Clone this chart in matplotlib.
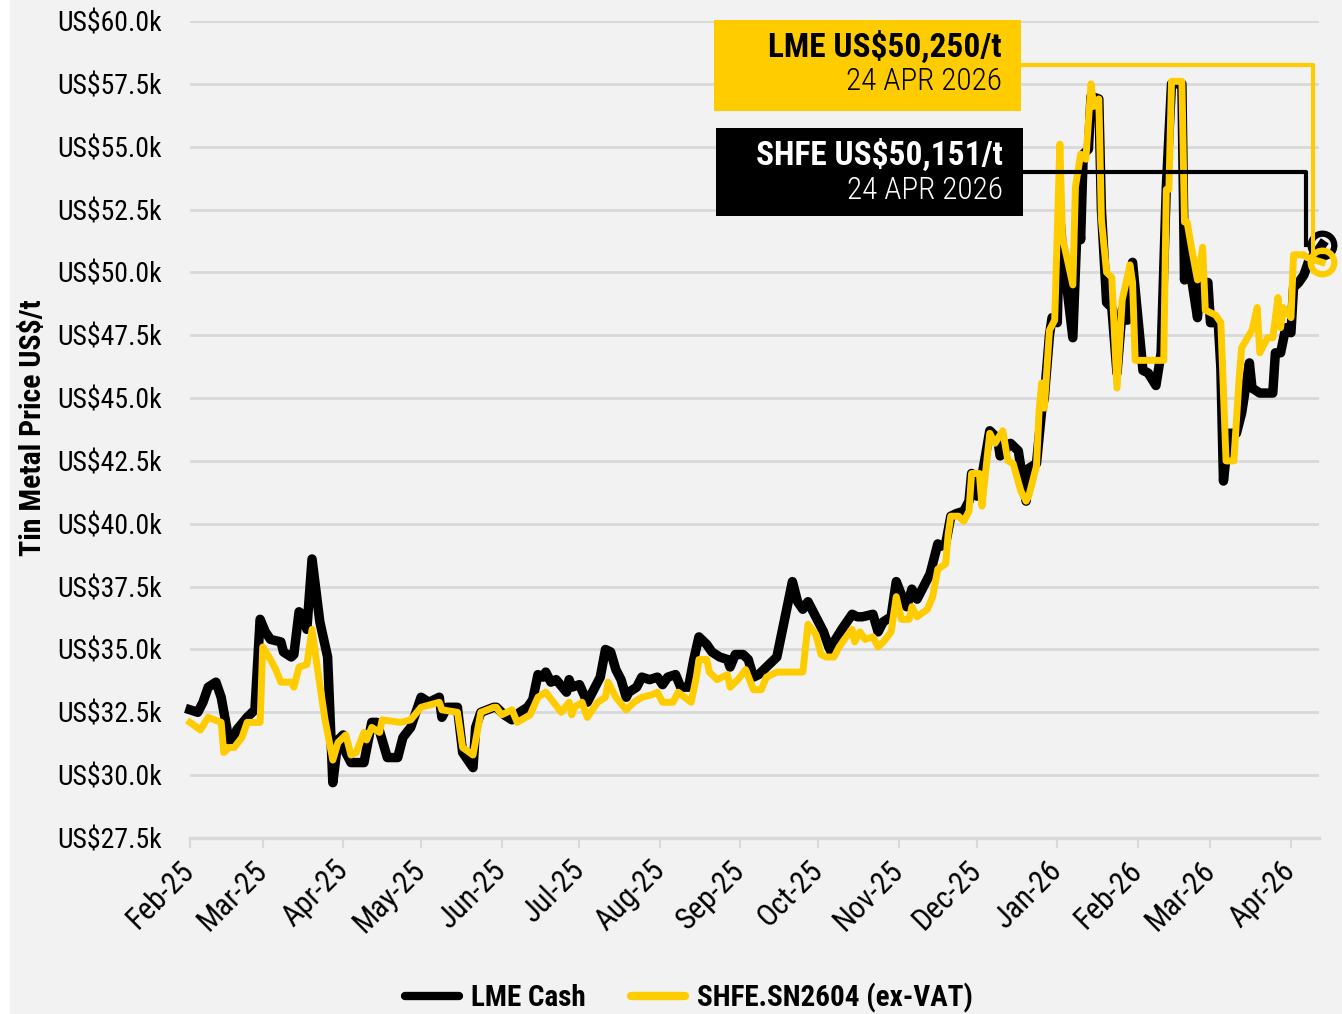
import numpy as np
import pandas as pd
import matplotlib
matplotlib.use('Agg')
import matplotlib.pyplot as plt
import matplotlib.transforms as mtransforms
from matplotlib.patches import Rectangle
from matplotlib.lines import Line2D
from matplotlib.ticker import FuncFormatter

plt.rcParams['font.family'] = ['Roboto Condensed', 'Archivo Narrow', 'DejaVu Sans']

# data: day offsets from 1 Feb 2025, price in US$k/t
start = pd.Timestamp('2025-02-01')

lme_day = [0, 3, 5, 7, 10, 12, 15, 17, 18, 22, 25, 27, 29, 31, 35, 36, 39, 40, 42, 43,
           45, 47, 50, 53, 55, 57, 59, 60, 62, 67, 70, 72, 76, 80, 82, 85, 89, 92, 96, 97,
           99, 103, 105, 109, 110, 112, 117, 118, 121, 124, 127, 130, 132, 134, 136, 137, 139, 141, 145, 146,
           147, 150, 153, 155, 158, 160, 162, 164, 166, 168, 169, 172, 174, 177, 180, 182, 184, 187, 189, 192,
           194, 196, 199, 201, 204, 207, 208, 210, 213, 215, 217, 219, 221, 223, 226, 229, 232, 234, 236, 238,
           240, 242, 244, 246, 247, 248, 251, 255, 257, 259, 263, 265, 267, 270, 272, 275, 276, 278, 280, 282,
           285, 288, 289, 291, 293, 295, 298, 300, 301, 303, 305, 308, 311, 312, 316, 319, 322, 323, 326, 328,
           329, 331, 332, 334, 335, 336, 340, 342, 343, 344, 346, 347, 350, 351, 353, 355, 357, 359, 361, 363,
           367, 369, 372, 374, 376, 378, 382, 383, 384, 388, 389, 392, 393, 396, 397, 398, 400, 403, 405, 408,
           409, 412, 417, 418, 420, 422, 424, 425, 427, 429, 431, 434, 436]
lme_price = [32.6, 32.5, 32.9, 33.5, 33.7, 33.1, 31.4, 31.4, 31.8, 32.3, 32.6, 36.2, 35.7, 35.4, 35.3, 34.9, 34.7, 34.8, 36.5, 36.4,
             35.8, 38.6, 36.1, 34.7, 29.7, 31.4, 31.6, 30.9, 30.5, 30.5, 32.1, 32.1, 30.7, 30.7, 31.5, 31.9, 33.1, 32.9, 33.1, 32.3,
             32.7, 32.7, 30.9, 30.3, 31.9, 32.5, 32.7, 32.7, 32.4, 32.2, 32.5, 32.7, 33.0, 34.0, 33.9, 34.1, 33.7, 33.8, 33.3, 33.8,
             33.5, 33.6, 32.9, 33.3, 33.9, 35.0, 34.9, 34.2, 33.8, 33.1, 33.3, 33.5, 33.9, 33.8, 33.9, 33.6, 33.9, 34.0, 33.5, 33.5,
             34.6, 35.5, 35.2, 34.9, 34.7, 34.6, 34.3, 34.8, 34.8, 34.6, 33.9, 34.0, 34.2, 34.4, 34.7, 36.2, 37.7, 36.9, 36.6, 36.9,
             36.5, 36.1, 35.7, 35.1, 34.9, 35.3, 35.8, 36.4, 36.3, 36.3, 36.4, 35.7, 36.1, 36.3, 37.7, 36.9, 36.7, 37.4, 37.0, 37.4,
             38.0, 39.2, 39.1, 39.2, 40.3, 40.4, 40.5, 40.9, 42.0, 41.1, 41.9, 43.7, 43.4, 42.7, 43.2, 42.9, 40.9, 42.2, 42.4, 44.5,
             45.0, 47.5, 48.2, 48.0, 52.2, 50.9, 47.4, 52.8, 51.3, 54.7, 54.9, 57.0, 56.9, 52.5, 48.8, 48.6, 46.0, 48.5, 48.1, 50.4,
             46.1, 46.0, 45.5, 46.8, 53.4, 57.5, 57.5, 49.7, 50.9, 48.2, 49.6, 49.6, 48.0, 48.0, 46.2, 41.7, 43.6, 43.6, 44.4, 46.4,
             45.4, 45.2, 45.2, 46.8, 46.8, 47.8, 47.6, 49.4, 49.6, 49.9, 50.5, 50.8, 51.1]

shfe_day = [0, 4, 7, 12, 13, 15, 17, 20, 22, 27, 28, 31, 33, 35, 39, 40, 42, 45, 47, 49,
            52, 55, 57, 60, 62, 64, 67, 68, 70, 73, 74, 81, 85, 89, 96, 97, 103, 105, 109, 112,
            117, 118, 120, 124, 126, 131, 134, 137, 140, 143, 146, 147, 148, 151, 153, 157, 160, 161, 164, 168,
            171, 174, 178, 180, 182, 186, 188, 193, 195, 196, 199, 200, 203, 207, 208, 211, 214, 217, 220, 222,
            226, 236, 238, 241, 243, 245, 248, 250, 252, 255, 256, 258, 260, 263, 265, 267, 270, 272, 274, 277,
            278, 280, 284, 286, 288, 291, 292, 293, 296, 298, 300, 301, 304, 305, 308, 310, 313, 315, 317, 320,
            322, 323, 326, 327, 328, 329, 331, 333, 335, 336, 340, 341, 343, 345, 347, 348, 350, 351, 353, 355,
            357, 359, 362, 363, 364, 375, 376, 377, 378, 382, 383, 384, 386, 388, 390, 391, 395, 397, 399, 402,
            404, 405, 409, 411, 412, 415, 417, 419, 420, 421, 424, 425, 429, 430, 436]
shfe_price = [32.1, 31.8, 32.3, 32.1, 30.9, 31.1, 31.1, 31.5, 32.1, 32.1, 35.1, 34.6, 34.2, 33.7, 33.7, 33.5, 34.3, 34.4, 35.8, 34.3,
              32.2, 30.6, 31.3, 31.6, 30.8, 30.9, 31.7, 31.4, 31.9, 31.7, 32.2, 32.1, 32.2, 32.7, 32.9, 32.6, 32.5, 31.1, 30.8, 32.5,
              32.7, 32.7, 32.4, 32.6, 32.1, 32.4, 33.1, 33.3, 32.9, 32.5, 32.9, 32.4, 32.7, 32.9, 32.3, 32.9, 33.1, 33.7, 33.1, 32.6,
              32.9, 33.1, 33.2, 33.3, 32.9, 32.9, 33.3, 32.9, 33.9, 34.6, 34.6, 34.1, 33.8, 34.0, 33.5, 33.8, 34.2, 33.4, 33.4, 33.9,
              34.1, 34.1, 36.0, 35.6, 34.8, 34.7, 34.7, 35.1, 35.4, 35.8, 35.3, 35.7, 35.4, 35.5, 35.1, 35.3, 35.7, 37.1, 36.2, 36.2,
              36.7, 36.3, 36.6, 37.1, 38.2, 38.4, 39.6, 40.3, 40.3, 40.1, 40.5, 42.0, 42.0, 40.7, 43.6, 43.2, 43.7, 42.5, 42.4, 41.3,
              40.9, 41.1, 42.3, 44.5, 45.6, 44.6, 47.7, 48.1, 55.1, 51.4, 49.5, 53.4, 54.7, 54.5, 57.5, 56.6, 56.9, 52.1, 50.0, 49.8,
              45.4, 48.9, 50.3, 49.6, 46.5, 46.5, 53.3, 53.3, 57.6, 57.6, 52.0, 52.0, 50.8, 49.7, 51.0, 48.5, 48.3, 48.0, 42.5, 42.5,
              45.7, 47.0, 47.7, 48.6, 46.8, 47.4, 47.4, 49.0, 47.8, 48.6, 48.2, 50.7, 50.7, 50.6, 50.4]

month_ticks = pd.date_range('2025-02-01', '2026-04-01', freq='MS')
y_ticks = np.arange(27500, 60001, 2500)

lme_label = 'LME US\\$50,250/t'
shfe_label = 'SHFE US\\$50,151/t'
as_of = '24 APR 2026'

BLACK = '#000000'
YELLOW = '#FFCC00'
GRID = '#d9d9d9'
BG = '#f2f2f2'

W, H = 1342, 1014
fig = plt.figure(figsize=(W / 100, H / 100), dpi=100, facecolor='white')
fig.patches.append(Rectangle((10 / W, 0), 1 - 10 / W, 1, transform=fig.transFigure,
                             facecolor=BG, edgecolor='none', zorder=-10))

def fx(px):
    return px / W

def fy(py):
    return 1 - py / H

ax = fig.add_axes([fx(190), fy(838), fx(1319) - fx(190), fy(21) - fy(838)])
ax.set_facecolor(BG)

lme_date = start + pd.to_timedelta(lme_day, unit='D')
shfe_date = start + pd.to_timedelta(shfe_day, unit='D')
lme_v = np.array(lme_price) * 1000
shfe_v = np.array(shfe_price) * 1000

ax.plot(lme_date, lme_v, color=BLACK, lw=6.8, solid_joinstyle='round', zorder=3, clip_on=False)
ax.plot(lme_date[-1:], lme_v[-1:], 'o', ms=17, mfc='none', mec=BLACK, mew=4.5, zorder=3, clip_on=False)
ax.plot(shfe_date, shfe_v, color=YELLOW, lw=5.0, solid_joinstyle='round', zorder=4, clip_on=False)
ax.plot(shfe_date[-1:], shfe_v[-1:], 'o', ms=17, mfc='none', mec=YELLOW, mew=4.5, zorder=5, clip_on=False)

ax.set_xlim(start, start + pd.Timedelta(days=434.8))
ax.set_ylim(27500, 60000)
ax.set_xticks(month_ticks)
ax.set_xticklabels([d.strftime('%b-%y') for d in month_ticks], rotation=45,
                   ha='right', va='center', rotation_mode='anchor')
shift = mtransforms.ScaledTranslation(5 / 100, 0, fig.dpi_scale_trans)
for lab in ax.get_xticklabels():
    lab.set_transform(lab.get_transform() + shift)
ax.set_yticks(y_ticks)
ax.yaxis.set_major_formatter(FuncFormatter(lambda v, p: 'US\\$%.1fk' % (v / 1000)))
ax.grid(axis='y', color=GRID, lw=2)
ax.set_axisbelow(True)
for s in ['top', 'right', 'left']:
    ax.spines[s].set_visible(False)
ax.spines['bottom'].set_color(GRID)
ax.spines['bottom'].set_linewidth(2.5)
ax.tick_params(axis='x', length=7, width=1.5, color=GRID, pad=13, labelsize=22)
ax.tick_params(axis='y', length=0, pad=20, labelsize=20)

fig.text(fx(33), fy(428), 'Tin Metal Price US\\$/t', rotation=90, ha='center', va='center',
         fontsize=21.5, fontweight='bold')

# callout boxes
fig.patches.append(Rectangle((fx(714), fy(111)), fx(1021) - fx(714), fy(20) - fy(111),
                             transform=fig.transFigure, facecolor=YELLOW, edgecolor='none', zorder=5))
fig.patches.append(Rectangle((fx(716), fy(216)), fx(1023) - fx(716), fy(128) - fy(216),
                             transform=fig.transFigure, facecolor=BLACK, edgecolor='none', zorder=5))
fig.text(fx(1002), fy(47), lme_label, ha='right', va='center', fontsize=24, fontweight='bold', zorder=6)
fig.text(fx(1002), fy(82), as_of, ha='right', va='center', fontsize=22.5, fontweight='light', zorder=6)
fig.text(fx(1003), fy(155), shfe_label, ha='right', va='center', fontsize=24, fontweight='bold',
         color='white', zorder=6)
fig.text(fx(1003), fy(190), as_of, ha='right', va='center', fontsize=22.5, fontweight='light',
         color='white', zorder=6)

# connectors from boxes down to last points
def to_fig(date, val):
    x, y = ax.transData.transform((matplotlib.dates.date2num(date), val))
    return x / W, y / H

yx, yy = to_fig(shfe_date[-1], shfe_v[-1])
bx, by = to_fig(lme_date[-1], lme_v[-1])
fig.add_artist(Line2D([fx(1021), yx - 9 / W, yx - 9 / W], [fy(65), fy(65), yy],
                      transform=fig.transFigure, color=YELLOW, lw=3, zorder=6))
fig.add_artist(Line2D([fx(1023), bx - 16 / W, bx - 16 / W], [fy(172), fy(172), by],
                      transform=fig.transFigure, color=BLACK, lw=3, zorder=2))

handles = [Line2D([], [], color=BLACK, lw=6, solid_capstyle='round'),
           Line2D([], [], color=YELLOW, lw=6, solid_capstyle='round')]
fig.legend(handles, ['LME Cash', 'SHFE.SN2604 (ex-VAT)'], loc='center',
           bbox_to_anchor=(fx(689), fy(998)), ncol=2, frameon=False,
           prop={'weight': 'bold', 'size': 21}, handlelength=1.85, handletextpad=0.4,
           columnspacing=1.55)

fig.savefig('out.png', dpi=100, facecolor=fig.get_facecolor())
